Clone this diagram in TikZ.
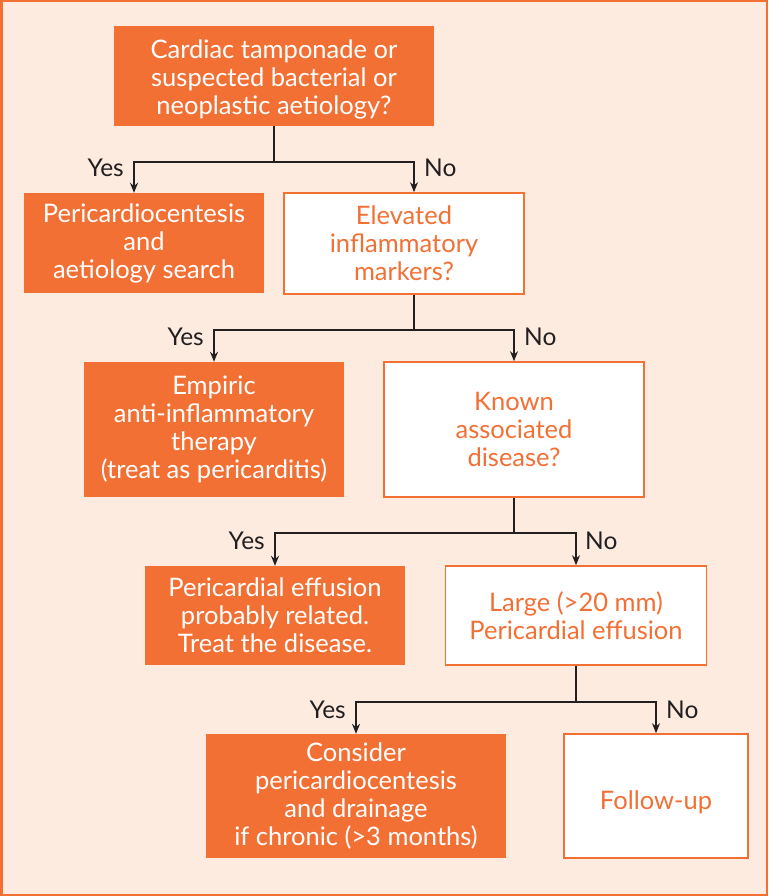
\documentclass[tikz,border=0pt]{standalone}
\usepackage{fontspec}
\setmainfont{Lato}
\usetikzlibrary{arrows.meta}
\definecolor{orng}{HTML}{F37035}
\definecolor{peach}{HTML}{FDEBE0}
\definecolor{ink}{HTML}{231F20}
\tikzset{
  box/.style={rectangle, inner sep=0pt, align=center, font=\fontsize{25.5}{28}\selectfont},
  filled/.style={box, fill=orng, text=white},
  open/.style={box, fill=white, draw=orng, line width=1.6pt, text=orng},
  conn/.style={draw=ink, line width=1.5pt},
  arr/.style={conn, -{Stealth[length=10pt,width=8pt]}},
  lab/.style={text=ink, font=\fontsize{24.5}{28}\selectfont, inner sep=0pt}
}
\begin{document}
\begin{tikzpicture}[x=1pt,y=-1pt]
\useasboundingbox (0,0) rectangle (768,896);
\draw[orng, fill=peach, line width=2.5pt] (1.25,1.25) rectangle (766.75,894.75);

\node[filled, minimum width=320pt, minimum height=100pt] (b1) at (274,76)
  {\raisebox{0pt}[\dimexpr\height+6pt\relax][\depth]{\parbox{300pt}{\centering Cardiac tamponade or\\suspected bacterial or\\neoplastic aetiology?}}};
\node[filled, minimum width=240pt, minimum height=100pt] (b2) at (144,243)
  {Pericardiocentesis\\and\\aetiology search};
\node[open, minimum width=240pt, minimum height=101pt] (b3) at (404,243.5)
  {Elevated\\inflammatory\\markers?};
\node[filled, minimum width=260pt, minimum height=135pt] (b4) at (214,429.5)
  {Empiric\\anti-inflammatory\\therapy\\(treat as pericarditis)};
\node[open, minimum width=260pt, minimum height=135pt] (b5) at (514,429.5)
  {Known\\associated\\disease?};
\node[filled, minimum width=260pt, minimum height=99pt] (b6) at (275,615.5)
  {Pericardial effusion\\probably related.\\Treat the disease.};
\node[open, minimum width=261pt, minimum height=99pt] (b7) at (576,615.5)
  {Large (>20 mm)\\Pericardial effusion};
\node[filled, minimum width=300pt, minimum height=124pt] (b8) at (356,796)
  {Consider\\pericardiocentesis\\and drainage\\if chronic (>3 months)};
\node[open, minimum width=184pt, minimum height=124pt] (b9) at (656,796)
  {\raisebox{0pt}[\dimexpr\height+12pt\relax][\depth]{Follow-up}};

% level 1
\coordinate (j1) at (274,162);
\draw[conn] (b1.south) -- (j1);
\draw[arr] (j1) -| ([xshift=-10pt]b2.north);
\draw[arr] (j1) -| ([xshift=10pt]b3.north);
\node[lab, anchor=east] (y1) at (124,168) {Yes};
\node[lab, anchor=west] (n1) at (424,168) {No};

% level 2
\coordinate (j2) at (414,330);
\draw[conn] ([xshift=10pt]b3.south) -- (j2);
\draw[arr] (j2) -| (b4.north);
\draw[arr] (j2) -| (b5.north);
\node[lab, anchor=east] (y2) at (204,337) {Yes};
\node[lab, anchor=west] (n2) at (524,337) {No};

% level 3
\coordinate (j3) at (514,533);
\draw[conn] (b5.south) -- (j3);
\draw[arr] (j3) -| (b6.north);
\draw[arr] (j3) -| (b7.north);
\node[lab, anchor=east] (y3) at (265,541) {Yes};
\node[lab, anchor=west] (n3) at (585,541) {No};

% level 4
\coordinate (j4) at (576,702);
\draw[conn] (b7.south) -- (j4);
\draw[arr] (j4) -| (b8.north);
\draw[arr] (j4) -| (b9.north);
\node[lab, anchor=east] (y4) at (346,710) {Yes};
\node[lab, anchor=west] (n4) at (666,710) {No};
\end{tikzpicture}
\end{document}
